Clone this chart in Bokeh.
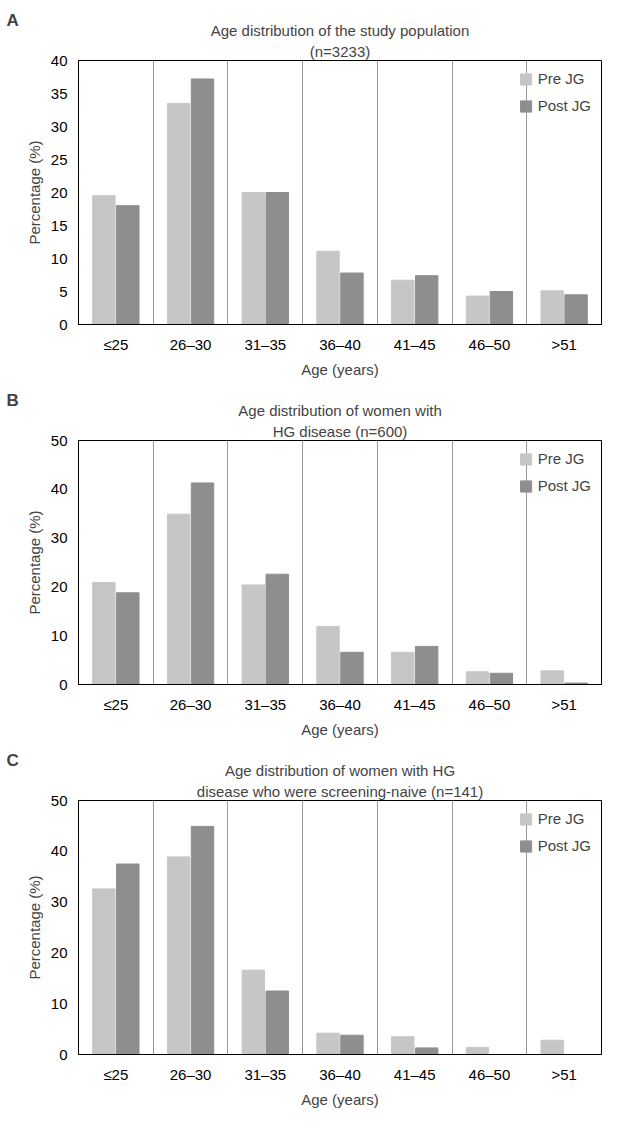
from bokeh.plotting import figure
from bokeh.models import FixedTicker, Range1d, Title
from bokeh.layouts import column
from bokeh.embed import file_html
from bokeh.resources import INLINE

groups = ["≤25", "26–30", "31–35", "36–40", "41–45", "46–50", ">51"]
a_pre = [19.5, 33.5, 20.0, 11.1, 6.7, 4.3, 5.1]
a_post = [18.0, 37.2, 20.0, 7.8, 7.4, 5.0, 4.5]
b_pre = [20.9, 34.9, 20.4, 11.9, 6.6, 2.6, 2.8]
b_post = [18.8, 41.3, 22.6, 6.6, 7.8, 2.3, 0.3]
c_pre = [32.6, 38.9, 16.6, 4.2, 3.5, 1.4, 2.8]
c_post = [37.5, 44.9, 12.5, 3.8, 1.3, 0.0, 0.0]

LIGHT = "#c6c6c6"
DARK = "#8e8e8e"
FONT = "Liberation Sans"

def panel(letter, line1, line2, pre, post, ymax, step, h):
    p = figure(width=609, height=h, output_backend="svg", toolbar_location=None, tools="",
               x_range=Range1d(0.5, 7.5), y_range=Range1d(0, ymax),
               min_border_left=78, min_border_right=8, min_border_top=60)
    # panel letter sits in the outermost title row, pulled down onto the first line
    p.title.text = letter
    p.title.align = "left"
    p.title.offset = -72
    p.title.text_font = FONT
    p.title.text_font_style = "bold"
    p.title.text_font_size = "17px"
    p.title.standoff = -22
    p.add_layout(Title(text=line2, align="center"), "above")
    p.add_layout(Title(text=line1, align="center"), "above")
    for t in p.above:
        if t is p.title:
            continue
        t.text_font = FONT
        t.text_font_style = "normal"
        t.text_font_size = "15px"
        t.standoff = 2
    xs = list(range(1, 8))
    p.vbar(x=[x - 0.16 for x in xs], top=pre, width=0.3, color=LIGHT, legend_label="Pre JG")
    p.vbar(x=[x + 0.16 for x in xs], top=post, width=0.3, color=DARK, legend_label="Post JG")
    p.xaxis.ticker = FixedTicker(ticks=xs)
    p.xaxis.major_label_overrides = {x: g for x, g in zip(xs, groups)}
    p.xgrid.ticker = FixedTicker(ticks=[x + 0.5 for x in range(0, 8)])
    p.xgrid.grid_line_color = "#9a9a9a"
    p.ygrid.grid_line_color = None
    p.yaxis.ticker = FixedTicker(ticks=list(range(0, ymax + 1, step)))
    p.xaxis.axis_label = "Age (years)"
    p.yaxis.axis_label = "Percentage (%)"
    for ax in (p.xaxis, p.yaxis):
        ax.axis_label_text_font = FONT
        ax.axis_label_text_font_style = "normal"
        ax.axis_label_text_font_size = "15px"
        ax.major_label_text_font = FONT
        ax.major_label_text_font_size = "15px"
        ax.major_label_text_color = "black"
        ax.axis_line_color = "black"
        ax.minor_tick_line_color = None
        ax.major_tick_line_color = "black" if ax is p.yaxis else None
    p.outline_line_color = "black"
    p.legend.location = "top_right"
    p.legend.border_line_color = None
    p.legend.background_fill_alpha = 0
    p.legend.label_text_font = FONT
    p.legend.label_text_font_size = "15px"
    p.legend.glyph_width = 14
    p.legend.glyph_height = 14
    p.legend.spacing = 10
    return p

pa = panel("A", "Age distribution of the study population", "(n=3233)", a_pre, a_post, 40, 5, 380)
pb = panel("B", "Age distribution of women with", "HG disease (n=600)", b_pre, b_post, 50, 10, 360)
pc = panel("C", "Age distribution of women with HG", "disease who were screening-naive (n=141)", c_pre, c_post, 50, 10, 370)

layout = column(pa, pb, pc, spacing=0)
open("out.html", "w").write(file_html(layout, INLINE))
